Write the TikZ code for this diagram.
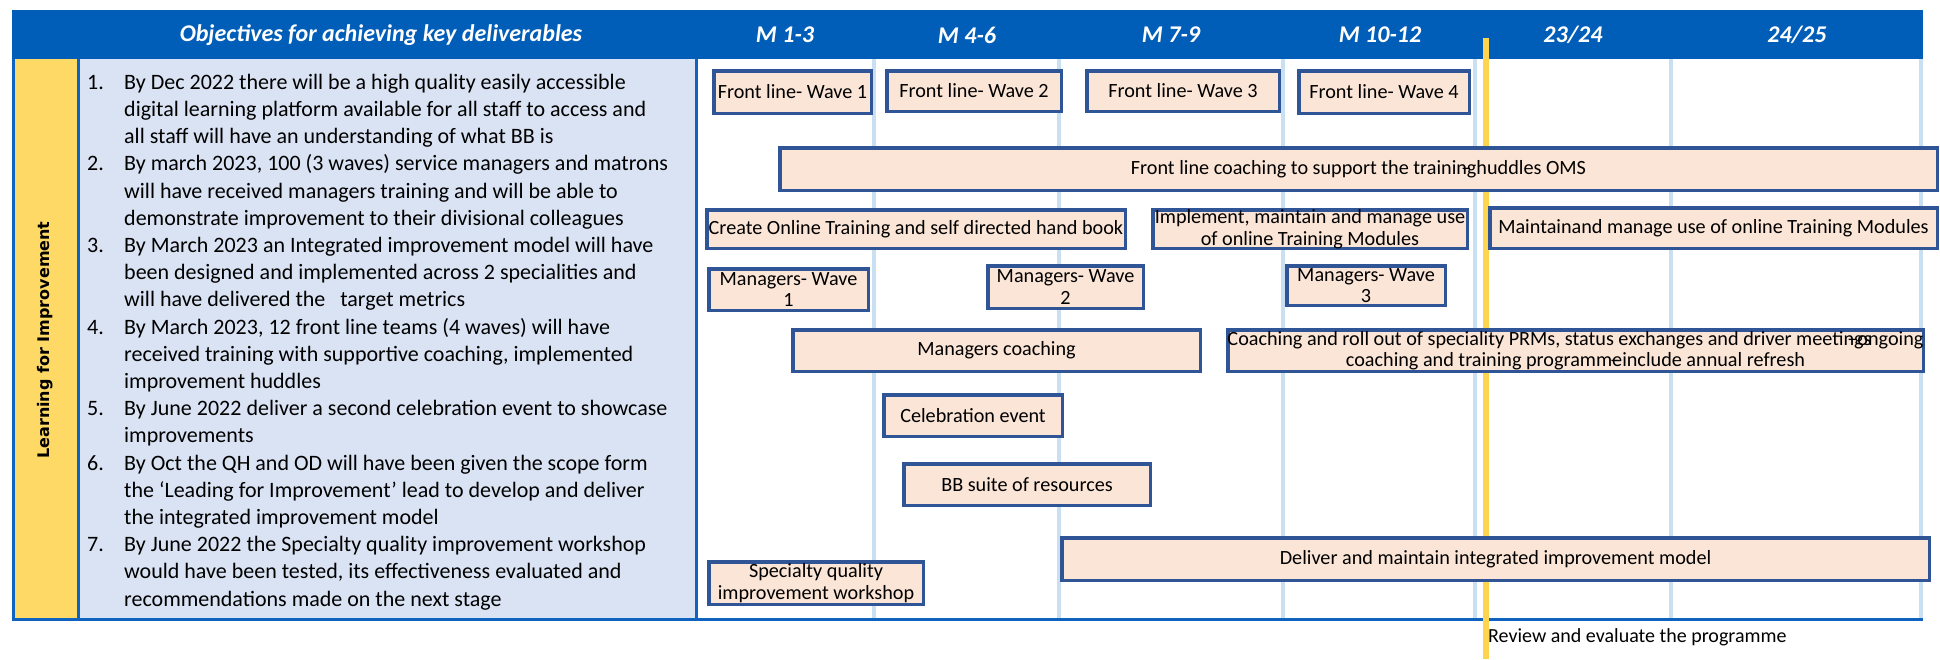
\documentclass[tikz,border=0pt]{standalone}
\usepackage{fontspec}
\usepackage{array}
\setmainfont{Carlito}
\newfontfamily\sidefont{DejaVu Sans}

\definecolor{headblue}{HTML}{005EB8}
\definecolor{frameblue}{HTML}{0F62BE}
\definecolor{gridblue}{HTML}{C9DFF2}
\definecolor{sideyellow}{HTML}{FFD966}
\definecolor{reviewyellow}{HTML}{FFD54F}
\definecolor{objfill}{HTML}{DAE3F3}
\definecolor{barfill}{HTML}{FBE5D6}
\definecolor{barline}{HTML}{2F5597}

% one activity bar: name, x1, y1, x2, y2, label
\newcommand\gbar[6]{%
  \draw[barbox] ({#2+1.75},{#3+1.75}) rectangle ({#4-1.75},{#5-1.75});
  \node[bartext] (#1) at ({(#2+#4)/2},{(#3+#5)/2}) {#6};}

\begin{document}
\begin{tikzpicture}[x=1pt,y=-1pt,
  barbox/.style={draw=barline,fill=barfill,line width=3.5pt},
  bartext/.style={inner sep=0pt,align=center,font=\fontsize{20.2}{21.5}\selectfont},
  headtext/.style={text=white,inner sep=0pt,font=\fontsize{24}{26}\selectfont\bfseries\itshape},
  frame/.style={draw=frameblue,line width=3pt},
  gridline/.style={draw=gridblue,line width=3.5pt}]
\useasboundingbox (0,0) rectangle (1940,659);

% header band
\fill[headblue] (12,10) rectangle (1923,59);
\node[headtext] (hobj) at (381,35) {Objectives for achieving key deliverables};
\node[headtext] (hm1) at (785,35) {M 1-3};
\node[headtext] (hm2) at (967,35) {M 4-6};
\node[headtext] (hm3) at (1171,35) {M 7-9};
\node[headtext] (hm4) at (1380,35) {M 10-12};
\node[headtext] (hy1) at (1573,35) {23/24};
\node[headtext] (hy2) at (1797,35) {24/25};

% side label and objectives panel
\fill[sideyellow] (13,59) rectangle (78,619);
\fill[objfill] (78,59) rectangle (696,619);
\node[rotate=90,inner sep=0pt,font=\sidefont\fontsize{16}{18}\selectfont\bfseries] (side) at (45.5,340) {Learning for Improvement};

\node[anchor=north west,inner sep=0pt,font=\fontsize{22}{27.2}\selectfont] (objectives) at (87,69.96) {%
\begin{tabular}{@{}p{37pt}@{}l@{}}
1. & By Dec 2022 there will be a high quality easily accessible\\
   & digital learning platform available for all staff to access and\\
   & all staff will have an understanding of what BB is\\
2. & By march 2023, 100 (3 waves) service managers and matrons\\
   & will have received managers training and will be able to\\
   & demonstrate improvement to their divisional colleagues\\
3. & By March 2023 an Integrated improvement model will have\\
   & been designed and implemented across 2 specialities and\\
   & will have delivered the\ \ \ target metrics\\
4. & By March 2023, 12 front line teams (4 waves) will have\\
   & received training with supportive coaching, implemented\\
   & improvement huddles\\
5. & By June 2022 deliver a second celebration event to showcase\\
   & improvements\\
6. & By Oct the QH and OD will have been given the scope form\\
   & the ‘Leading for Improvement’ lead to develop and deliver\\
   & the integrated improvement model\\
7. & By June 2022 the Specialty quality improvement workshop\\
   & would have been tested, its effectiveness evaluated and\\
   & recommendations made on the next stage
\end{tabular}};

% quarter and year grid
\foreach \gx in {874,1059,1283,1475,1671,1921}
  \draw[gridline] (\gx,59) -- (\gx,619);

% panel frame
\draw[frame] (13,59) -- (13,619);
\draw[frame] (78,59) -- (78,619);
\draw[frame] (696,59) -- (696,619);
\draw[frame] (12,619) -- (1923,619);

% review milestone
\node[anchor=west,inner sep=0pt,font=\fontsize{20}{22}\selectfont] (review) at (1488,637) {Review and evaluate the programme};
\draw[reviewyellow,line width=6pt] (1486,38) -- (1486,659);

% activity bars
\gbar{fl1}{712}{69}{873}{115}{Front line- Wave 1}
\gbar{fl2}{885}{69}{1063}{113}{Front line- Wave 2}
\gbar{fl3}{1085}{69}{1281}{113}{Front line- Wave 3}
\gbar{fl4}{1297}{69}{1471}{115}{Front line- Wave 4}
\gbar{flc}{778}{146}{1939}{192}{Front line coaching to support the training\llap{–\kern0.25em}huddles OMS}
\gbar{cot}{705}{208}{1127}{250}{Create Online Training and self directed hand book}
\gbar{imp}{1151}{208}{1469}{250}{Implement, maintain and manage use\\of online Training Modules}
\gbar{mnt}{1488}{206}{1939}{250}{Maintainand manage use of online Training Modules}
\gbar{mw1}{707}{267}{870}{312}{Managers- Wave\\1}
\gbar{mw2}{986}{264}{1145}{310}{Managers- Wave\\2}
\gbar{mw3}{1285}{264}{1447}{307}{Managers- Wave\\3}
\gbar{mgc}{791}{328}{1202}{373}{Managers coaching}
\gbar{cro}{1226}{328}{1925}{373}{Coaching and roll out of speciality PRMs, status exchanges and driver meetings\kern-1.2em–ongoing\\coaching and training programme\llap{–\kern0.1em}include annual refresh}
\gbar{cel}{882}{393}{1064}{438}{Celebration event}
\gbar{bbs}{902}{462}{1152}{507}{BB suite of resources}
\gbar{dlv}{1060}{536}{1931}{582}{Deliver and maintain integrated improvement model}
\gbar{spq}{707}{560}{925}{606}{Specialty quality\\improvement workshop}
\end{tikzpicture}
\end{document}
